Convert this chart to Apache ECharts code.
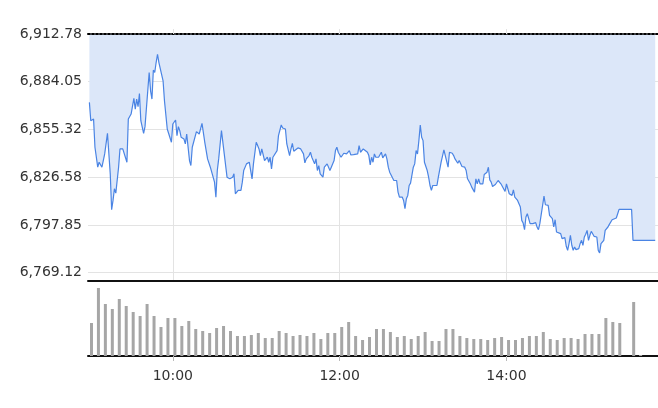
<!DOCTYPE html>
<html><head><meta charset="utf-8">
<script src="https://cdn.jsdelivr.net/npm/echarts@6/dist/echarts.min.js"></script>
<style>html,body{margin:0;padding:0;background:#fff}#c{width:658px;height:408px}</style>
</head><body><div id="c"></div>
<script>
// price axis tick labels
const priceTicks = [6769.12, 6797.85, 6826.58, 6855.32, 6884.05, 6912.78];
// time axis labels
const timeTicks = ['10:00', '12:00', '14:00'];
// intraday price: minutes after 09:00 and index level
const lineMinutes = [0,1,3,4,5,6,7,9,10,11,12,13,15,16,17,18,19,21,22,23,24,25,27,28,30,32,33,34,35,36,37,39,40,41,43,44,45,46,47,48,49,50,51,53,54,56,57,59,60,62,63,64,65,66,68,69,70,72,73,74,75,77,79,80,81,83,84,85,86,87,89,90,91,92,93,95,96,97,98,99,101,102,103,104,105,107,108,109,110,111,113,114,115,116,117,118,120,121,122,123,124,126,127,128,129,130,131,132,133,135,136,137,138,139,141,142,144,145,146,147,148,150,151,152,154,155,156,157,158,159,160,161,162,163,164,165,166,167,168,169,171,172,173,174,175,176,177,178,179,181,182,183,184,185,187,188,189,190,191,193,194,195,196,197,198,200,201,202,203,204,205,206,207,208,209,210,211,213,214,215,216,217,219,220,221,222,223,225,226,227,228,229,230,231,233,234,235,236,237,238,239,240,241,243,244,245,246,247,248,250,251,252,253,255,256,257,258,259,261,262,263,264,265,266,268,269,270,271,272,274,275,277,278,279,280,281,282,283,284,286,287,288,289,290,291,292,293,294,295,296,297,299,300,301,302,303,304,305,306,307,308,309,310,311,312,313,314,315,317,318,319,320,321,322,323,324,326,327,328,329,330,331,332,333,334,335,336,337,339,340,341,342,343,344,345,346,347,348,349,350,351,352,353,354,355,356,357,358,359,360,361,363,364,365,366,367,368,370,371,372,373,374,375,376,377,379,380,381,390,391,407];
const lineValues = [6871.6,6860.6,6861.6,6844.6,6844.6,6832.6,6835.6,6832.6,6836.6,6840.6,6841.6,6853.0,6828.6,6807.0,6812.6,6819.6,6817.0,6832.6,6843.6,6844.6,6843.6,6844.6,6835.6,6861.6,6864.6,6874.0,6867.6,6873.6,6869.0,6877.0,6860.6,6853.0,6857.0,6857.6,6889.6,6878.6,6873.6,6891.0,6889.6,6895.6,6900.6,6895.6,6894.6,6884.6,6872.6,6855.6,6854.6,6847.6,6858.6,6861.0,6851.6,6857.0,6854.6,6850.6,6849.6,6846.6,6852.6,6836.6,6833.6,6844.6,6845.6,6854.0,6852.6,6852.2,6859.0,6847.6,6848.6,6837.6,6836.6,6832.6,6826.6,6823.6,6814.6,6830.6,6837.6,6854.6,6853.6,6840.6,6833.6,6826.6,6825.6,6824.6,6826.6,6828.6,6816.6,6818.6,6817.6,6818.6,6823.6,6830.6,6834.6,6835.6,6835.6,6836.6,6825.6,6834.6,6847.6,6845.6,6843.6,6839.6,6843.6,6836.6,6836.6,6838.6,6835.6,6838.6,6831.6,6838.6,6837.6,6842.6,6851.6,6850.6,6858.0,6856.2,6855.6,6846.6,6839.6,6843.6,6847.0,6842.2,6841.6,6844.2,6843.6,6843.6,6840.6,6835.2,6837.6,6837.0,6839.6,6841.6,6838.6,6839.6,6834.6,6837.6,6830.6,6833.6,6828.6,6827.6,6826.6,6832.6,6834.6,6835.6,6830.6,6832.6,6832.6,6836.6,6842.6,6844.6,6841.6,6838.6,6839.6,6841.0,6841.6,6840.6,6842.6,6840.0,6840.6,6840.2,6839.2,6840.6,6845.6,6841.6,6840.6,6843.6,6843.2,6841.6,6839.6,6834.0,6838.6,6835.6,6840.6,6838.6,6839.6,6838.6,6839.6,6841.6,6838.2,6840.6,6837.6,6832.6,6829.6,6830.6,6824.6,6824.6,6824.6,6817.6,6814.6,6814.6,6812.6,6807.6,6813.6,6815.6,6821.6,6823.0,6832.6,6834.6,6842.6,6840.6,6848.6,6858.0,6850.6,6848.6,6835.6,6830.6,6826.6,6821.6,6818.6,6821.6,6821.6,6821.6,6826.6,6827.6,6835.6,6843.0,6839.6,6840.6,6832.6,6841.6,6841.0,6839.6,6837.6,6836.6,6835.0,6836.6,6833.0,6833.0,6832.6,6830.6,6825.6,6822.6,6820.6,6817.6,6825.6,6822.6,6825.6,6822.6,6822.2,6822.6,6828.2,6829.6,6832.6,6825.0,6823.6,6821.0,6820.6,6822.2,6823.0,6824.6,6825.6,6822.6,6821.6,6818.0,6822.6,6822.2,6816.6,6816.2,6815.6,6819.0,6814.6,6813.6,6812.6,6812.6,6808.6,6800.6,6799.0,6795.0,6802.6,6804.6,6798.6,6798.2,6798.6,6797.6,6799.2,6796.6,6795.0,6798.6,6809.6,6815.2,6810.0,6810.6,6809.6,6803.6,6802.6,6801.6,6796.6,6801.0,6793.6,6793.6,6792.6,6789.6,6788.6,6790.2,6785.0,6782.6,6786.6,6791.6,6785.6,6782.6,6784.6,6783.0,6783.6,6783.6,6786.6,6788.6,6785.6,6790.6,6792.2,6794.6,6788.6,6791.6,6794.0,6791.0,6791.6,6790.6,6782.6,6781.0,6786.6,6788.6,6794.6,6795.6,6796.6,6798.2,6798.2,6801.0,6800.6,6802.0,6804.6,6807.2,6807.2,6788.6,6788.6];
// 5-minute volume bars starting 09:00
const volumes = [33,68,52,47,57,50,44,40,52,40,29,38,38,30,35,27,25,23,28,30,25,20,20,21,23,18,18,25,23,20,21,20,23,17,23,23,29,34,20,16,19,27,27,24,19,20,17,20,24,15,15,27,27,20,18,17,17,16,18,19,16,16,18,20,20,24,17,16,18,18,17,22,22,22,38,34,33,0,54,1];

const toMin = s => { const p = s.split(':'); return (+p[0] - 9) * 60 + (+p[1]); };
const fmtTime = m => { const h = 9 + Math.floor(m / 60), mm = Math.round(m % 60); return h + ':' + (mm < 10 ? '0' : '') + mm; };
const tickMins = timeTicks.map(toMin);
const X_MIN = -1, X_MAX = 409;
const FONT = 'DejaVu Sans';

const chart = echarts.init(document.getElementById('c'), null, {renderer: 'canvas'});
chart.setOption({
  animation: false,
  grid: [
    {left: 88, right: 0, top: 34, bottom: 127},
    {left: 88, right: 0, top: 281, bottom: 52}
  ],
  xAxis: [
    { // grid lines for price panel
      type: 'value', gridIndex: 0, min: X_MIN, max: X_MAX, position: 'bottom',
      axisLine: {show: false}, axisLabel: {show: false},
      axisTick: {show: false, customValues: tickMins},
      splitLine: {show: true, lineStyle: {color: '#e3e3e3', width: 1}}
    },
    { // dotted reference line on top
      type: 'value', gridIndex: 0, min: X_MIN, max: X_MAX, position: 'top', z: 10,
      axisLine: {show: true, lineStyle: {color: '#000', width: 2, type: [2, 2]}},
      axisLabel: {show: false},
      axisTick: {show: true, length: 5, customValues: tickMins, lineStyle: {color: '#e3e3e3'}},
      splitLine: {show: false}
    },
    { // volume bottom axis with labels
      type: 'value', gridIndex: 1, min: X_MIN, max: X_MAX, position: 'bottom',
      axisLine: {show: true, onZero: false, lineStyle: {color: '#111', width: 2}},
      axisTick: {show: true, length: 5, customValues: tickMins, lineStyle: {color: '#bbb'}},
      axisLabel: {show: true, customValues: tickMins, formatter: v => fmtTime(v), color: '#333',
        fontFamily: FONT, fontSize: 14, margin: 13},
      splitLine: {show: false}
    },
    { // volume top border
      type: 'value', gridIndex: 1, min: X_MIN, max: X_MAX, position: 'top',
      axisLine: {show: true, onZero: false, lineStyle: {color: '#111', width: 2}},
      axisTick: {show: false}, axisLabel: {show: false}, splitLine: {show: false}
    }
  ],
  yAxis: [
    {
      type: 'value', gridIndex: 0, min: 6764.1, max: 6912.78,
      axisLine: {show: false},
      axisTick: {show: false, customValues: priceTicks},
      axisLabel: {show: true, customValues: priceTicks, color: '#333', fontFamily: FONT, fontSize: 14, margin: 6,
        formatter: v => v.toLocaleString('en-US', {minimumFractionDigits: 2, maximumFractionDigits: 2})},
      splitLine: {show: true, lineStyle: {color: '#e3e3e3', width: 1}}
    },
    {
      type: 'value', gridIndex: 1, min: 0, max: 75, show: false,
      splitLine: {show: false}
    }
  ],
  series: [
    {
      type: 'line', xAxisIndex: 0, yAxisIndex: 0,
      data: lineMinutes.map((m, i) => [m, lineValues[i]]),
      symbol: 'none', showSymbol: false,
      lineStyle: {color: '#4a84e4', width: 1.2},
      areaStyle: {origin: 'end', color: '#dce7f9', opacity: 1}
    },
    {
      type: 'bar', xAxisIndex: 2, yAxisIndex: 1,
      data: volumes.map((v, i) => [i * 5 + 1.5, v]),
      barWidth: 3,
      itemStyle: {color: '#a6a6a6'}
    }
  ]
});
</script>
</body></html>
